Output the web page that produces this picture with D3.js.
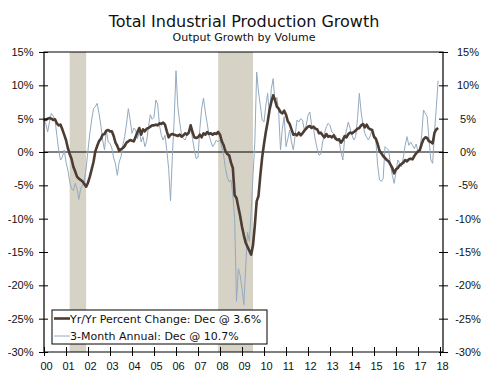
<!DOCTYPE html>
<html>
<head>
<meta charset="utf-8">
<script src="https://cdn.jsdelivr.net/npm/d3@7"></script>
<style>
  body { margin: 0; background: #fff; }
  svg { display: block; font-family: "DejaVu Sans", Verdana, sans-serif; }
</style>
</head>
<body>
<div id="chart"></div>
<script>
// monthly, Jan 2000 .. Dec 2017
const startYear = 2000;

// Yr/Yr percent change
const yoy = [
  4.9, 4.8, 5.0, 5.1, 5.0, 4.8, 4.9, 4.3, 4.0, 4.1, 3.4, 2.6,        // 2000
  1.8, 0.6, -0.3, -1.0, -2.2, -2.9, -3.7, -4.0, -4.2, -4.4, -4.8, -5.2, // 2001
  -4.6, -3.7, -2.6, -1.5, 0.1, 0.9, 1.6, 2.0, 2.6, 2.7, 3.2, 3.3,    // 2002
  3.1, 3.1, 2.4, 1.4, 0.9, 0.2, 0.4, 0.6, 0.9, 1.4, 1.6, 1.8,        // 2003
  1.7, 1.6, 2.3, 3.0, 3.6, 2.6, 3.4, 3.1, 3.5, 3.6, 3.8, 4.0,        // 2004
  4.0, 4.1, 4.0, 4.3, 4.2, 4.4, 4.1, 3.1, 2.2, 2.6, 2.7, 2.6,        // 2005
  2.5, 2.4, 2.6, 2.3, 2.5, 2.8, 2.6, 2.9, 4.0, 3.0, 2.2, 2.1,        // 2006
  2.2, 2.6, 2.2, 2.8, 2.6, 3.0, 2.7, 2.8, 2.6, 2.8, 2.7, 3.0,        // 2007
  2.6, 1.6, 1.0, 0.1, -0.3, -0.5, -1.6, -2.4, -6.5, -6.9, -8.3, -9.6, // 2008
  -11.2, -12.5, -13.6, -14.2, -14.8, -15.4, -14.0, -11.0, -7.4, -6.6, -3.5, -0.8, // 2009
  1.2, 3.0, 4.5, 6.3, 7.5, 8.5, 7.8, 6.8, 6.5, 6.0, 5.8, 6.2,        // 2010
  5.6, 4.6, 4.2, 3.4, 2.6, 2.7, 2.5, 2.9, 2.5, 2.8, 3.2, 3.5,        // 2011
  3.8, 3.9, 3.6, 3.8, 3.5, 3.4, 2.8, 2.9, 2.5, 2.2, 2.7, 2.3,        // 2012
  2.4, 2.2, 2.5, 2.0, 1.8, 1.9, 1.4, 1.8, 2.4, 2.2, 2.7, 2.9,        // 2013
  2.8, 3.0, 3.2, 3.5, 3.6, 4.0, 4.2, 3.7, 4.1, 3.6, 3.4, 3.3,        // 2014
  2.3, 2.0, 1.2, 0.2, -0.2, -0.6, -0.9, -1.2, -1.4, -1.9, -2.4, -3.2, // 2015
  -2.6, -2.4, -2.0, -1.8, -1.6, -1.2, -1.4, -1.1, -1.0, -1.1, -0.6, -0.2, // 2016
  0.1, 0.3, 1.2, 1.9, 2.2, 2.1, 1.6, 1.5, 1.3, 2.9, 3.4, 3.6         // 2017
];

// 3-month annualized rate
const ann = [
  4.8, 4.2, 3.0, 4.5, 5.8, 5.4, 4.9, 2.5, 0.3, -1.2, -0.8, 0.3,      // 2000
  -1.5, -2.7, -4.4, -5.5, -5.8, -4.7, -5.5, -7.1, -5.5, -5.0, -4.3, -2.4, // 2001
  0.3, 2.8, 4.8, 6.5, 6.8, 7.3, 5.8, 4.0, 1.8, 0.3, 3.3, 1.5,        // 2002
  1.3, 0.6, -0.9, -1.8, -3.5, -1.5, -0.7, 1.0, 2.3, 4.2, 6.5, 4.8,   // 2003
  2.8, 3.6, 3.3, 2.0, 3.2, 1.5, 2.3, 0.8, 1.6, 3.8, 5.6, 4.9,        // 2004
  5.2, 7.8, 7.2, 4.0, 2.5, 1.8, 2.5, 0.2, -2.5, -7.3, -0.7, 4.8,     // 2005
  12.2, 6.8, 4.5, 2.6, 2.0, 1.8, 2.6, 3.3, 3.8, 2.0, 0.3, -1.0,      // 2006
  -0.8, 3.5, 6.5, 8.1, 6.0, 4.3, 2.5, 1.6, 0.8, 1.2, 1.8, 1.5,       // 2007
  1.8, 0.6, -0.5, -2.5, -3.8, -4.5, -4.2, -6.5, -10.0, -22.4, -17.5, -18.5, // 2008
  -20.5, -22.9, -17.4, -12.0, -13.4, -9.0, -3.5, 1.5, 12.0, 9.0, 7.0, 4.8, // 2009
  4.5, 7.0, 8.8, 5.5, 9.5, 11.0, 7.5, 8.2, 6.0, 0.3, 3.5, 5.3,       // 2010
  0.8, 2.0, 3.3, 1.5, 0.3, 2.5, 4.8, 4.5, 5.0, 4.8, 3.3, 4.0,        // 2011
  5.5, 6.0, 4.0, 3.5, 1.8, 0.5, -0.5, -0.3, 1.5, 2.8, 3.8, 4.3,      // 2012
  4.0, 3.0, 2.8, 2.5, 1.8, 1.5, 0.0, -1.2, 2.0, 3.3, 4.5, 3.5,       // 2013
  2.5, 1.8, 2.3, 5.0, 8.8, 6.0, 4.0, 2.8, 2.2, 1.8, 2.5, 3.3,        // 2014
  2.0, 1.8, -2.0, -4.2, -4.4, -4.0, 0.8, 0.5, 0.3, -2.0, -3.5, -4.7, // 2015
  -3.0, -1.2, -1.7, -2.2, -0.8, 1.0, 2.3, 1.0, 1.5, 1.0, 0.5, 1.2,   // 2016
  0.0, 0.3, 2.5, 6.3, 5.8, 5.3, 2.0, -1.2, -1.7, 3.0, 6.8, 10.7      // 2017
];

// recessions: [first month, last month]
const recessions = [["2001-03", "2001-11"], ["2007-12", "2009-06"]];

const yTicks = [15, 10, 5, 0, -5, -10, -15, -20, -25, -30];
const xTicks = d3.range(2000, 2019);

const legendItems = [
  { label: "Yr/Yr Percent Change: Dec @ 3.6%", color: "#4b3d33", width: 2.6 },
  { label: "3-Month Annual: Dec @ 10.7%", color: "#93aac0", width: 1 }
];

const W = 500, H = 377;
const mLeft = 44, mRight = 443, mTop = 52, mBottom = 352;

const svg = d3.select("#chart").append("svg").attr("width", W).attr("height", H);

const x = d3.scaleLinear().domain([2000, 2018]).range([mLeft, 440]);
const y = d3.scaleLinear().domain([-30, 15]).range([mBottom, mTop]);

const monthToYear = s => { const [yy, mm] = s.split("-").map(Number); return yy + (mm - 1) / 12; };

// title
svg.append("text").attr("x", 244).attr("y", 27).attr("text-anchor", "middle")
  .attr("font-size", 16).attr("fill", "#111").text("Total Industrial Production Growth");
svg.append("text").attr("x", 244).attr("y", 41).attr("text-anchor", "middle")
  .attr("font-size", 11).attr("fill", "#111").text("Output Growth by Volume");

// recession shading
svg.append("g").selectAll("rect").data(recessions).join("rect")
  .attr("x", d => x(monthToYear(d[0])))
  .attr("width", d => x(monthToYear(d[1]) + 1 / 12) - x(monthToYear(d[0])))
  .attr("y", mTop).attr("height", mBottom - mTop)
  .attr("fill", "#d6d2c5");

// zero line
svg.append("line").attr("x1", mLeft).attr("x2", mRight).attr("y1", y(0)).attr("y2", y(0))
  .attr("stroke", "#000").attr("stroke-width", 1);

const line = d3.line().x((d, i) => x(startYear + i / 12)).y(d => y(d));

svg.append("path").datum(ann).attr("d", line).attr("fill", "none")
  .attr("stroke", legendItems[1].color).attr("stroke-width", legendItems[1].width);
svg.append("path").datum(yoy).attr("d", line).attr("fill", "none")
  .attr("stroke", legendItems[0].color).attr("stroke-width", legendItems[0].width)
  .attr("stroke-linejoin", "round");

// frame
svg.append("path")
  .attr("d", `M${mLeft},${mBottom}V${mTop}H${mRight}V${mBottom}H${mLeft}`)
  .attr("fill", "none").attr("stroke", "#000").attr("stroke-width", 1.2);

// y axes
const yAxisL = d3.axisLeft(y).tickValues(yTicks).tickSize(0).tickPadding(0).tickFormat(d => d + "%");
const gl = svg.append("g").attr("transform", `translate(${mLeft},0)`).call(yAxisL);
gl.select(".domain").remove();
gl.selectAll("text").attr("x", -10.5).attr("font-size", 11).attr("fill", "#111").attr("font-family", null);
gl.selectAll(".tick line").attr("x1", -5).attr("x2", 4).attr("stroke", "#000");

const yAxisR = d3.axisRight(y).tickValues(yTicks).tickSize(0).tickPadding(0).tickFormat(d => d + "%");
const gr = svg.append("g").attr("transform", `translate(${mRight},0)`).call(yAxisR);
gr.select(".domain").remove();
gr.selectAll("text").attr("x", 25).attr("text-anchor", "middle").attr("font-size", 11)
  .attr("fill", "#111").attr("font-family", null);
gr.selectAll(".tick line").attr("x1", -4).attr("x2", 5).attr("stroke", "#000");

// x axis
const xAxis = d3.axisBottom(x).tickValues(xTicks).tickSize(0).tickPadding(0)
  .tickFormat(d => String(d).slice(2));
const gx = svg.append("g").attr("transform", `translate(0,${mBottom})`).call(xAxis);
gx.select(".domain").remove();
gx.selectAll("text").attr("y", 10).attr("dx", 2).attr("font-size", 11).attr("fill", "#111")
  .attr("font-family", null);
gx.selectAll(".tick line").attr("y1", -5).attr("y2", 4).attr("stroke", "#000");

// legend
const lg = svg.append("g").attr("transform", "translate(52,310)");
lg.append("rect").attr("width", 215).attr("height", 34).attr("fill", "#fff")
  .attr("stroke", "#000").attr("stroke-width", 1);
const li = lg.selectAll("g.item").data(legendItems).join("g").attr("class", "item")
  .attr("transform", (d, i) => `translate(0,${8.5 + i * 17.5})`);
li.append("line").attr("x1", 2).attr("x2", 18).attr("stroke", d => d.color).attr("stroke-width", d => d.width);
li.append("text").attr("x", 18).attr("y", 4).attr("font-size", 11).attr("fill", "#111").text(d => d.label);
</script>
</body>
</html>
